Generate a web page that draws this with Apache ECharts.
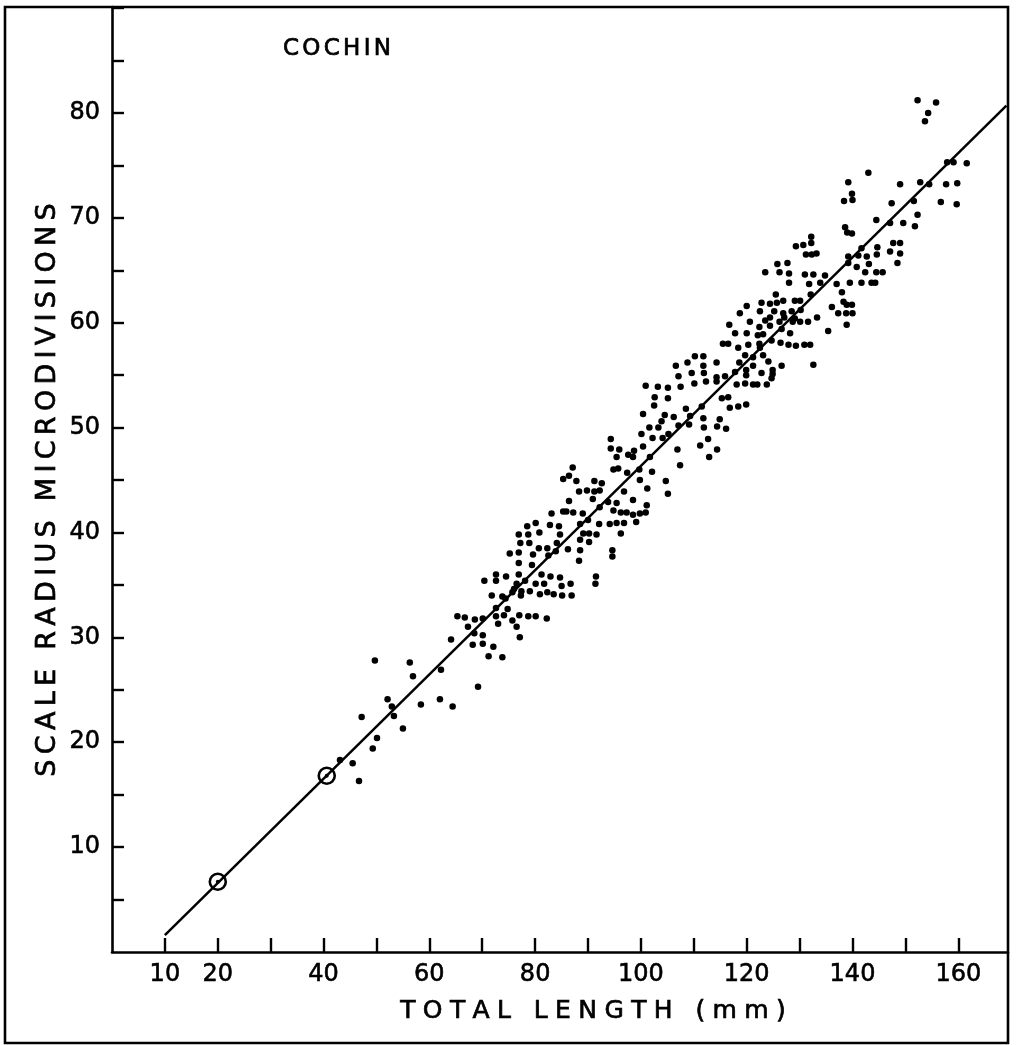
<!DOCTYPE html>
<html>
<head>
<meta charset="utf-8">
<title>Cochin – scale radius vs total length</title>
<script src="https://cdn.jsdelivr.net/npm/echarts@6/dist/echarts.min.js"></script>
<style>
  html, body { margin: 0; padding: 0; background: #ffffff; }
  #chart { width: 1018px; height: 1045px; }
</style>
</head>
<body>
<div id="chart"></div>
<script>
// Individual fish: total length (mm) and scale radius (micro-divisions)
const fishLength = [
  49.7, 56.3, 56.9, 64.1, 67.3, 70.1, 68.2, 70.1, 71.2, 62.2, 69.2, 52.1, 52.9, 53.3, 58.4, 62.0, 64.4, 47.2, 55.0, 50.1,
  49.3, 43.1, 45.5, 46.7,
  83.1, 80.1, 78.5, 80.8, 82.8, 84.5, 84.7, 76.9, 78.7, 77.2, 78.9, 84.1, 86.2, 80.7, 82.3, 75.2, 76.9, 79.6, 82.5, 83.9,
  76.9, 79.4, 72.6, 74.5, 76.9, 81.2, 82.9, 84.7, 70.4, 72.6, 76.5, 78.1, 80.1, 81.7, 85.0, 76.0, 77.4, 71.8, 73.8, 74.4,
  75.7, 77.3, 79.0, 80.9, 82.3, 83.5, 85.1, 72.6, 74.8, 65.3, 66.7, 68.6, 70.1, 72.6, 74.1, 77.0, 78.7, 80.1, 82.2, 73.0,
  75.7, 76.5, 68.5, 77.1, 72.1, 73.8,
  94.3, 100.1, 94.3, 95.9, 98.7, 100.4, 95.4, 97.6, 98.5, 101.7, 87.1, 94.8, 95.7, 85.3, 86.4, 87.8, 97.4, 99.8, 91.2, 92.6,
  88.3, 89.8, 91.2, 92.2, 96.8, 101.2, 86.4, 90.9, 93.8, 98.5, 95.4, 101.1, 85.3, 85.9, 87.2, 89.0, 92.2, 94.8, 96.2, 97.3,
  98.5, 99.8, 100.9, 90.0, 99.1, 88.5, 92.1, 94.1, 95.4, 96.8, 89.1, 90.2, 91.6, 96.2, 88.5, 90.2, 88.5, 88.3, 94.6, 94.6,
  91.5, 91.4, 86.7, 86.9,
  115.5, 116.5, 110.2, 111.8, 108.8, 114.3, 106.6, 111.8, 109.6, 111.9, 107.1, 114.3, 115.9, 114.3, 110.1, 112.3, 100.9, 103.2, 105.1, 107.5,
  102.6, 105.1, 115.3, 116.5, 102.5, 108.5, 111.5, 100.4, 104.5, 106.2, 109.3, 111.8, 114.9, 103.9, 107.1, 109.1, 101.6, 103.3, 111.9, 114.4,
  116.1, 105.2, 102.2, 104.1, 112.7, 111.2, 114.4, 106.9, 112.9, 107.4, 102.1, 99.7, 104.7, 105.1,
  132.2, 132.2, 129.3, 130.7, 131.2, 132.3, 133.2, 139.2, 125.8, 127.7, 139.2, 123.5, 126.2, 128.0, 131.0, 132.6, 134.8, 128.0, 131.8, 133.9,
  137.0, 139.5, 132.1, 138.0, 125.5, 130.1, 138.3, 120.0, 122.8, 124.4, 125.7, 126.9, 129.1, 136.1, 138.9, 118.7, 122.5, 125.2, 126.9, 128.5,
  130.2, 137.3, 138.8, 124.4, 127.1, 129.1, 133.3, 120.6, 123.5, 126.2, 128.7, 130.1, 131.6, 138.9, 116.7, 124.4, 122.4, 126.6, 117.8, 120.0,
  122.1, 123.1, 128.2, 135.4, 124.7, 126.4, 118.4, 120.3, 122.4, 122.5, 127.9, 129.3, 130.9, 132.0, 119.7, 121.2, 123.1, 124.1, 118.6, 121.2,
  126.6, 124.9, 132.6, 117.8, 119.9, 119.9, 122.8, 124.9, 124.7, 118.1, 119.7, 121.2, 122.0, 123.8, 116.8, 118.4, 119.9,
  152.3, 155.8, 154.3, 153.7, 157.9, 159.1, 161.6, 143.0, 139.2, 149.0, 152.8, 154.5, 157.7, 159.8, 139.9, 138.4, 140.0, 147.4, 151.6, 156.7,
  159.7, 152.3, 144.5, 147.1, 149.6, 151.8, 138.6, 139.0, 139.9, 141.7, 144.7, 147.7, 149.0, 147.1, 149.0, 141.1, 142.7, 144.6, 140.8, 143.1,
  148.5, 142.4, 144.5, 145.7, 141.7, 143.6, 144.3, 140.0, 139.9
];
const scaleRadius = [
  27.8, 27.6, 26.3, 29.8, 31.0, 30.2, 29.3, 29.4, 28.2, 26.9, 25.3, 24.1, 23.4, 22.5, 23.6, 24.1, 23.4, 22.4, 21.3, 20.4,
  19.4, 18.3, 18.0, 16.3,
  41.8, 40.9, 40.6, 40.0, 40.7, 40.6, 39.8, 39.8, 39.8, 39.0, 39.0, 39.0, 38.4, 38.5, 38.5, 38.0, 38.1, 37.9, 37.8, 38.2,
  37.1, 36.9, 36.0, 35.8, 36.0, 36.0, 35.8, 35.7, 35.4, 35.4, 35.1, 35.4, 35.1, 35.1, 34.9, 34.6, 34.4, 34.0, 33.9, 33.7,
  34.3, 34.0, 34.4, 34.1, 34.3, 34.1, 34.0, 32.8, 32.7, 32.0, 31.9, 31.7, 31.8, 32.0, 32.1, 32.1, 32.0, 32.0, 31.8, 31.3,
  31.6, 31.0, 30.4, 30.0, 29.1, 28.1,
  48.9, 49.4, 48.0, 47.9, 47.8, 48.2, 47.2, 47.4, 47.2, 47.2, 46.2, 46.0, 46.1, 45.1, 45.4, 44.9, 45.7, 45.0, 44.9, 44.7,
  43.9, 44.0, 43.9, 44.0, 43.9, 44.2, 43.0, 43.2, 42.9, 43.1, 42.8, 42.6, 42.0, 42.0, 41.9, 41.8, 42.4, 42.1, 41.9, 41.9,
  41.7, 41.8, 41.9, 41.2, 41.0, 40.8, 40.8, 40.8, 40.9, 40.9, 39.9, 39.9, 39.8, 39.9, 39.3, 39.1, 38.3, 37.3, 38.3, 37.7,
  35.8, 35.1, 35.1, 34.0,
  58.0, 58.0, 56.8, 56.8, 56.2, 56.2, 55.9, 55.9, 55.2, 55.2, 54.9, 54.8, 54.9, 54.4, 54.2, 54.4, 54.0, 53.9, 53.8, 53.9,
  52.9, 52.8, 52.8, 52.9, 52.1, 51.8, 52.0, 51.3, 51.2, 51.0, 51.1, 50.9, 50.8, 50.6, 50.2, 50.3, 50.0, 50.0, 50.0, 50.1,
  49.9, 49.4, 49.0, 49.0, 48.9, 48.3, 47.9, 47.9, 47.2, 46.4, 45.8, 46.0, 44.9, 43.7,
  68.2, 67.6, 67.3, 67.4, 66.5, 66.5, 66.6, 66.3, 65.6, 65.7, 65.7, 64.8, 64.8, 64.7, 64.6, 64.6, 64.5, 63.8, 63.7, 63.8,
  63.7, 63.8, 62.7, 62.9, 62.7, 62.1, 62.0, 61.6, 61.9, 61.8, 61.9, 62.1, 62.1, 61.5, 61.7, 60.9, 61.1, 61.1, 60.9, 61.1,
  61.2, 60.9, 60.9, 60.5, 60.5, 60.4, 60.5, 60.1, 60.2, 60.1, 60.1, 60.1, 60.1, 59.8, 59.8, 59.7, 59.6, 59.4, 59.0, 59.0,
  58.8, 58.9, 59.0, 59.2, 58.3, 58.1, 57.6, 57.9, 58.0, 57.6, 57.9, 57.8, 57.9, 57.9, 56.9, 56.7, 56.9, 56.3, 56.2, 55.9,
  55.9, 55.5, 56.0, 55.3, 55.5, 55.0, 55.2, 55.1, 54.7, 54.1, 54.2, 54.1, 54.1, 54.1, 51.9, 52.0, 52.2,
  81.2, 81.0, 80.0, 79.2, 75.3, 75.3, 75.2, 74.3, 73.4, 73.2, 73.4, 73.2, 73.2, 73.3, 72.3, 71.6, 71.7, 71.4, 71.6, 71.5,
  71.3, 70.3, 69.8, 69.5, 69.5, 69.2, 69.1, 68.6, 68.5, 67.1, 67.2, 67.6, 67.6, 66.8, 66.6, 66.4, 66.3, 66.5, 65.3, 65.6,
  65.7, 64.8, 64.8, 64.8, 63.8, 63.8, 63.8, 60.9, 61.7
];

// Group means shown as open circles
const meanLength = [20, 40.6];
const meanRadius = [6.7, 16.8];

// Fitted regression line, end points
const fitLength = [10, 169.1];
const fitRadius = [1.6, 80.7];

// Tick values that carry a label
const xLabelled = [10, 20, 40, 60, 80, 100, 120, 140, 160];
const yLabelled = [10, 20, 30, 40, 50, 60, 70, 80];

const INK = '#000000';
const FACE = '"DejaVu Sans", "Liberation Sans", sans-serif';

// Wrap every character in a rich-text token so the lettering can be spread out
function spreadText(text, key) {
  return text.split('').map(function (ch) {
    return '{' + key + '|' + (ch === ' ' ? '\u00a0' : ch) + '}';
  }).join('');
}
function spreadStyle(size, spacing) {
  return {
    fontFamily: FACE, fontSize: size, fill: INK,
    stroke: INK, lineWidth: 0.7,
    padding: [0, spacing / 2, 0, spacing / 2]
  };
}

const tickLabelStyle = {
  fontFamily: FACE, fontSize: 24, color: INK,
  textBorderColor: INK, textBorderWidth: 0.6
};

const chart = echarts.init(document.getElementById('chart'), null, { renderer: 'canvas' });

chart.setOption({
  animation: false,
  backgroundColor: '#ffffff',
  grid: { left: 112, top: 7, right: 10, bottom: 93, containLabel: false },
  xAxis: {
    type: 'value',
    min: 0, max: 169.4, interval: 10,
    axisLine: { show: true, onZero: false, lineStyle: { color: INK, width: 2.6 } },
    axisTick: { show: true, inside: true, length: 14, lineStyle: { color: INK, width: 2.4 } },
    axisLabel: Object.assign({
      show: true, margin: 11,
      showMaxLabel: false, showMinLabel: false,
      formatter: function (v) { return xLabelled.indexOf(v) >= 0 ? String(v) : ''; }
    }, tickLabelStyle),
    splitLine: { show: false }
  },
  yAxis: {
    type: 'value',
    min: 0, max: 90.1, interval: 5,
    axisLine: { show: true, onZero: false, lineStyle: { color: INK, width: 2.6 } },
    axisTick: { show: true, inside: true, length: 12, lineStyle: { color: INK, width: 2.4 } },
    axisLabel: Object.assign({
      show: true, margin: 12,
      showMaxLabel: false, showMinLabel: false,
      formatter: function (v) { return yLabelled.indexOf(v) >= 0 ? String(v) : ''; }
    }, tickLabelStyle),
    splitLine: { show: false }
  },
  series: [
    {
      name: 'fit',
      type: 'line',
      data: fitLength.map(function (x, i) { return [x, fitRadius[i]]; }),
      showSymbol: false,
      lineStyle: { color: INK, width: 2.5 },
      silent: true,
      z: 2
    },
    {
      name: 'fish',
      type: 'scatter',
      data: fishLength.map(function (x, i) { return [x, scaleRadius[i]]; }),
      symbol: 'circle',
      symbolSize: 6.5,
      itemStyle: { color: INK, opacity: 1 },
      silent: true,
      z: 3
    },
    {
      name: 'mean',
      type: 'scatter',
      data: meanLength.map(function (x, i) { return [x, meanRadius[i]]; }),
      symbol: 'circle',
      symbolSize: 16,
      itemStyle: { color: 'rgba(0,0,0,0)', borderColor: INK, borderWidth: 2.6, opacity: 1 },
      silent: true,
      z: 4
    },
    {
      name: 'mean centre',
      type: 'scatter',
      data: meanLength.map(function (x, i) { return [x, meanRadius[i]]; }),
      symbol: 'circle',
      symbolSize: 4,
      itemStyle: { color: INK, opacity: 1 },
      silent: true,
      z: 4
    }
  ],
  graphic: [
    {
      type: 'rect',
      shape: { x: 5, y: 7, width: 1003, height: 1036 },
      style: { fill: null, stroke: INK, lineWidth: 2.6 },
      silent: true,
      z: 10
    },
    {
      type: 'text',
      x: 337, y: 49,
      style: {
        text: spreadText('COCHIN', 't'),
        rich: { t: spreadStyle(23, 3.3) },
        align: 'center', verticalAlign: 'middle'
      },
      silent: true
    },
    {
      type: 'text',
      x: 593, y: 1011,
      style: {
        text: spreadText('TOTAL LENGTH (mm)', 'x'),
        rich: { x: spreadStyle(25, 7.4) },
        align: 'center', verticalAlign: 'middle'
      },
      silent: true
    },
    {
      type: 'text',
      x: 48, y: 490,
      rotation: Math.PI / 2,
      style: {
        text: spreadText('SCALE RADIUS MICRODIVISIONS', 'y'),
        rich: { y: spreadStyle(27, 5.3) },
        align: 'center', verticalAlign: 'middle'
      },
      silent: true
    }
  ]
});
</script>
</body>
</html>
